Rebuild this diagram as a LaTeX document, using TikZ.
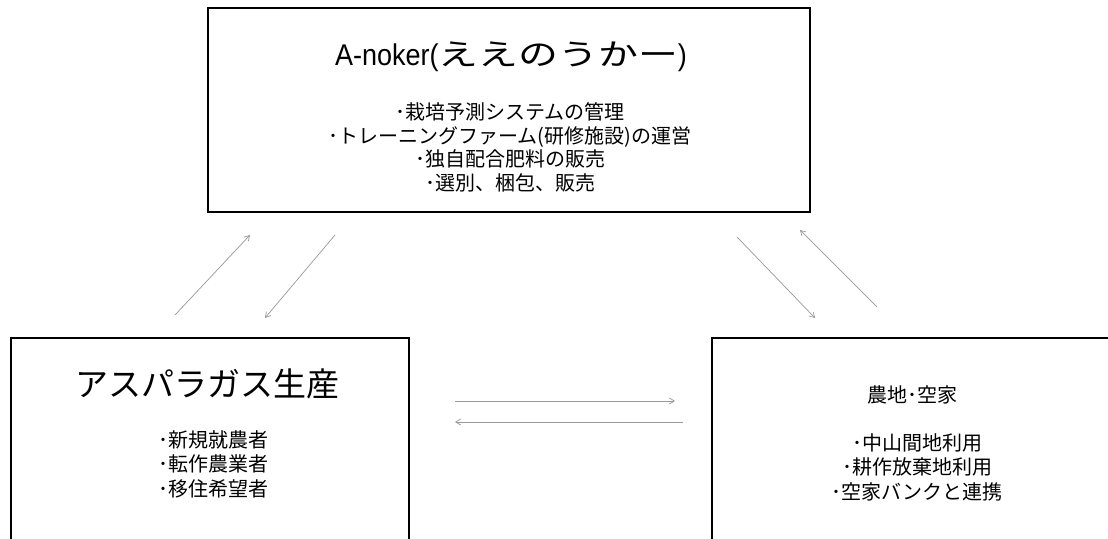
\documentclass[tikz,border=0pt]{standalone}
\usepackage{fontspec}
\setmainfont{Noto Sans CJK JP}
\newfontfamily\latinfont[FakeStretch=0.9]{Liberation Sans}
\newfontfamily\widejp[FakeStretch=1.33]{Noto Sans CJK JP}
\usetikzlibrary{arrows.meta}
\begin{document}
\begin{tikzpicture}[x=1pt,y=-1pt,
  box/.style={draw=black, line width=2pt, rectangle, inner sep=0pt},
  conn/.style={draw=black!40, line width=0.7pt, -{Straight Barb[length=5pt,width=6pt]}},
  bodytext/.style={font=\fontsize{20}{24.5}\selectfont, inner sep=0pt},
  toptext/.style={font=\fontsize{20}{23.5}\selectfont, inner sep=0pt, align=center},
]
\clip (0,0) rectangle (1108,538);
\fill[white] (0,0) rectangle (1108,538);

% boxes
\node[box, minimum width=602pt, minimum height=204pt] (topbox) at (509,110) {};
\node[box, minimum width=398pt, minimum height=242pt] (leftbox) at (210,459) {};
\node[box, minimum width=413pt, minimum height=242pt] (rightbox) at (918.5,459) {};

% top box texts
\node[inner sep=0pt] (toptitle) at (511,57)
  {{\latinfont\fontsize{30}{36}\selectfont A-noker(}{\widejp\fontsize{30}{36}\selectfont ええのうかー}{\latinfont\fontsize{30}{36}\selectfont )}};
\node[toptext] (toplist) at (510,147.5)
  {･栽培予測システムの管理\\･トレーニングファーム(研修施設)の運営\\･独自配合肥料の販売\\･選別、梱包、販売};

% left box texts
\node[inner sep=0pt, font=\fontsize{33}{38}\selectfont] (lefttitle) at (207,384) {アスパラガス生産};
\node[bodytext, align=left] (leftlist) at (213,464) {･新規就農者\\･転作農業者\\･移住希望者};

% right box texts
\node[bodytext] (righttitle) at (912,395) {農地･空家};
\node[bodytext, align=center] (rightlist) at (917,467) {･中山間地利用\\･耕作放棄地利用\\･空家バンクと連携};

% connector end points
\coordinate (a1s) at (175,315); \coordinate (a1e) at (250,235);
\coordinate (a2s) at (335,235); \coordinate (a2e) at (265,318);
\coordinate (a3s) at (737,237); \coordinate (a3e) at (815,318);
\coordinate (a4s) at (877,307); \coordinate (a4e) at (800,230);
\coordinate (a5s) at (455,401); \coordinate (a5e) at (675,401);
\coordinate (a6s) at (683,422); \coordinate (a6e) at (455,422);

\draw[conn] (a1s) -- (a1e);
\draw[conn] (a2s) -- (a2e);
\draw[conn] (a3s) -- (a3e);
\draw[conn] (a4s) -- (a4e);
\draw[conn] (a5s) -- (a5e);
\draw[conn] (a6s) -- (a6e);
\end{tikzpicture}
\end{document}
